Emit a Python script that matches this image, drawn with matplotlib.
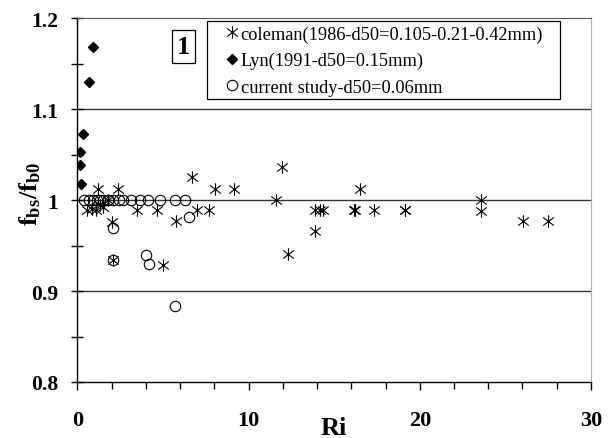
import matplotlib
matplotlib.use('Agg')
import matplotlib.pyplot as plt
from matplotlib.ticker import MultipleLocator, FixedLocator
from matplotlib.lines import Line2D
from matplotlib.path import Path
from matplotlib.patches import Rectangle

plt.rcParams['font.family'] = 'Liberation Serif'
plt.rcParams['mathtext.fontset'] = 'custom'
plt.rcParams['mathtext.rm'] = 'Liberation Serif'
plt.rcParams['mathtext.bf'] = 'Liberation Serif:bold'
plt.rcParams['mathtext.it'] = 'Liberation Serif:italic'

# coleman (1986) data
coleman_x = [1.18, 2.38, 0.54, 1.06, 0.85, 1.3, 1.5, 1.8, 2.0, 3.45, 4.62, 6.68, 5.74,
             7.0, 7.67, 8.06, 9.14, 11.96, 11.57, 13.9, 14.33, 13.85, 16.18, 2.09,
             5.0, 12.32, 16.53, 14.18, 16.24, 17.35, 19.11, 19.15, 23.57, 23.57,
             26.05, 27.51]
coleman_y = [1.012, 1.012, 0.989, 0.989, 0.99, 0.995, 0.992, 1.0, 0.976, 0.989, 0.989,
             1.025, 0.977, 0.989, 0.989, 1.012, 1.012, 1.036, 1.0, 0.989, 0.989, 0.966,
             0.989, 0.934, 0.929, 0.941, 1.012, 0.989, 0.989, 0.989, 0.989, 0.989,
             1.0, 0.988, 0.977, 0.977]

# Lyn (1991) data
lyn_x = [0.92, 0.69, 0.34, 0.15, 0.15, 0.22]
lyn_y = [1.169, 1.130, 1.073, 1.053, 1.039, 1.018]

# current study data
cur_x = [0.38, 0.69, 0.92, 1.12, 1.31, 1.51, 1.80, 2.09, 2.44, 2.67, 3.1, 3.64, 4.13,
         4.81, 5.69, 6.27, 2.09, 6.52, 2.09, 4.03, 4.19, 5.69]
cur_y = [1.0, 1.0, 1.0, 1.0, 1.0, 1.0, 1.0, 1.0, 1.0, 1.0, 1.0, 1.0, 1.0,
         1.0, 1.0, 1.0, 0.969, 0.981, 0.934, 0.940, 0.930, 0.884]

labels = ['coleman(1986-d50=0.105-0.21-0.42mm)', 'Lyn(1991-d50=0.15mm)',
          'current study-d50=0.06mm']

# asterisk like excel: X plus a vertical bar
ast = Path([(0, -1), (0, 1), (-0.85, -0.65), (0.85, 0.65), (-0.85, 0.65), (0.85, -0.65)],
           [Path.MOVETO, Path.LINETO, Path.MOVETO, Path.LINETO, Path.MOVETO, Path.LINETO])

fig = plt.figure(figsize=(6.11, 4.39), dpi=100)
ax = fig.add_axes([0.1268, 0.1276, 0.8404, 0.8284])

ax.plot(coleman_x, coleman_y, ls='none', marker=ast, ms=9, mew=0.8, color='black',
        mfc='none', zorder=3)
ax.plot(lyn_x, lyn_y, ls='none', marker='D', ms=5.5, color='black', zorder=3)
ax.plot(cur_x, cur_y, ls='none', marker='o', ms=7.5, mfc='none', mec='black', mew=0.8, zorder=3)

ax.set_xlim(0, 30)
ax.set_ylim(0.8, 1.2)
ax.xaxis.set_major_locator(FixedLocator([0, 10, 20, 30]))
ax.xaxis.set_minor_locator(MultipleLocator(2))
ax.yaxis.set_major_locator(FixedLocator([0.8, 0.9, 1.0, 1.1, 1.2]))
ax.yaxis.set_minor_locator(MultipleLocator(0.05))
ax.set_yticklabels(['0.8', '0.9', '1', '1.1', '1.2'])

for y in [0.9, 1.0, 1.1]:
    ax.axhline(y, color='#333333', lw=1.0, zorder=1)

ax.spines['top'].set_color('#555555')
ax.spines['right'].set_color('#b0b0b0')
ax.spines['left'].set_linewidth(1.0)
ax.spines['bottom'].set_linewidth(1.0)

ax.tick_params(axis='x', which='major', direction='out', length=6, width=1, pad=14,
               labelsize=16)
ax.tick_params(axis='x', which='minor', direction='out', length=5, width=1)
ax.tick_params(axis='y', which='both', direction='inout', length=8, width=1, pad=10,
               labelsize=15.5)
for lab in ax.get_xticklabels() + ax.get_yticklabels():
    lab.set_fontweight('bold')

ax.set_xlabel('Ri', fontsize=19, fontweight='bold', va='center')
ax.xaxis.set_label_coords(0.5, -0.124)
ax.set_ylabel(r'$\mathbf{f_{bs}/f_{b0}}$', fontsize=19, va='center')
ax.yaxis.set_label_coords(-0.093, 0.52)

# legend frame drawn separately so the padding matches the original
ax.add_patch(Rectangle((0.252, 0.778), 0.688, 0.2146, transform=ax.transAxes,
                       fc='white', ec='black', lw=0.9, zorder=4))
handles = [Line2D([], [], ls='none', marker=ast, ms=9, mew=0.8, color='black', mfc='none'),
           Line2D([], [], ls='none', marker='D', ms=5.5, color='black'),
           Line2D([], [], ls='none', marker='o', ms=7.5, mfc='none', mec='black', mew=0.8)]
leg = ax.legend(handles, labels, loc='upper left', bbox_to_anchor=(0.280, 0.995),
                fontsize=13.2, frameon=False, handlelength=0.55,
                handletextpad=0.2, borderpad=0.3, labelspacing=0.5, borderaxespad=0)
leg.set_zorder(5)

ax.text(0.207, 0.922, '1', transform=ax.transAxes, fontsize=19, fontweight='bold',
        ha='center', va='center',
        bbox=dict(boxstyle='square,pad=0.18', fc='white', ec='black', lw=0.9))

fig.savefig('out.png', dpi=100)
